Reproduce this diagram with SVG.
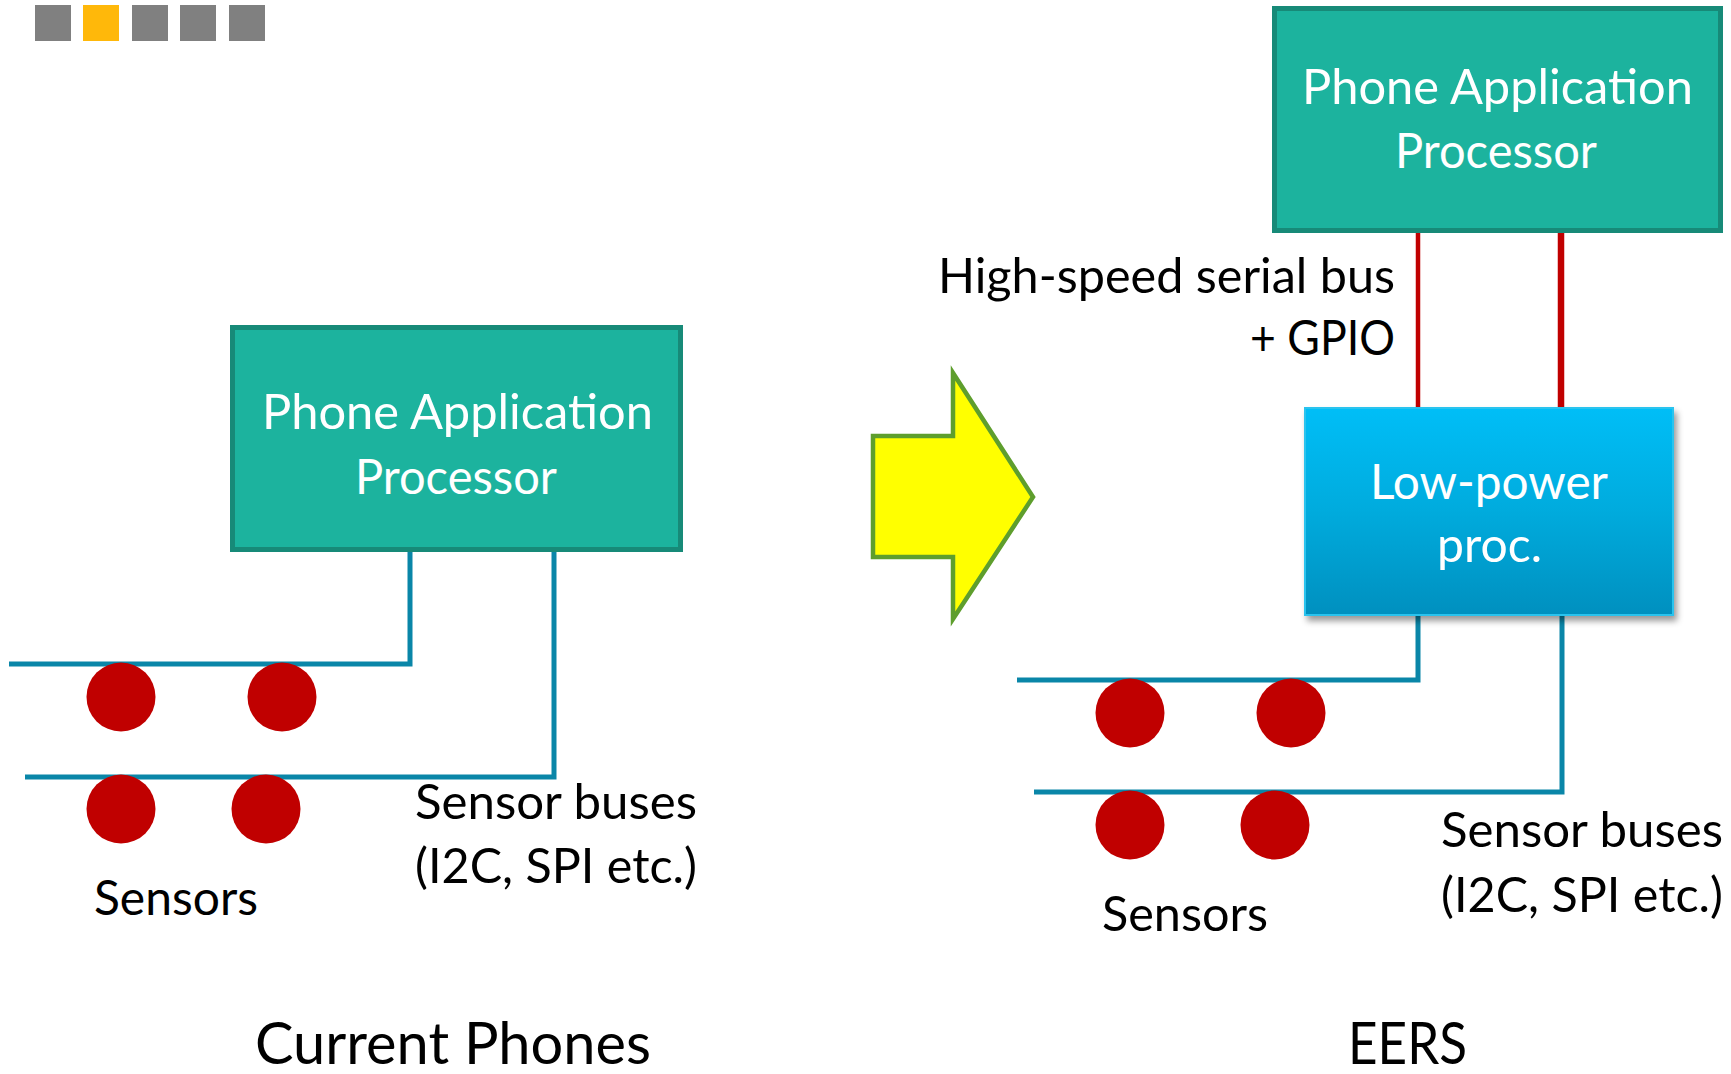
<svg xmlns="http://www.w3.org/2000/svg" width="1731" height="1074" viewBox="0 0 1731 1074">
  <defs>
    <linearGradient id="lpGrad" x1="0" y1="0" x2="0" y2="1">
      <stop offset="0" stop-color="#00BEF7"/>
      <stop offset="0.5" stop-color="#00ABDD"/>
      <stop offset="1" stop-color="#0090BF"/>
    </linearGradient>
    <filter id="shadow" x="-10%" y="-10%" width="125%" height="130%">
      <feDropShadow dx="3" dy="5" stdDeviation="3" flood-color="#000" flood-opacity="0.4"/>
    </filter>
  </defs>
  <style>
    .tile { fill: #808080; }
    .tile.on { fill: #FFB80A; }
    .proc { fill: #1CB39E; stroke: #178A78; stroke-width: 5; }
    .lp { fill: url(#lpGrad); stroke: #2AC3EE; stroke-width: 2; }
    .bus { fill: none; stroke: #0A86A8; stroke-width: 5; stroke-linejoin: miter; }
    .hs { fill: none; stroke: #C00000; }
    .sensor { fill: #C00000; }
    text { font-family: Lato, "Open Sans", "Liberation Sans", sans-serif; }
    .box-label { fill: #FFFFFF; font-size: 48px; text-anchor: middle; }
    .label { fill: #000000; font-size: 48px; }
    .title { fill: #000000; font-size: 58px; }
  </style>

  <rect width="1731" height="1074" fill="#FFFFFF"/>

  <!-- progress tiles -->
  <g id="tiles">
    <rect class="tile" x="35" y="5" width="36" height="36"/>
    <rect class="tile on" x="83" y="5" width="36" height="36"/>
    <rect class="tile" x="132" y="5" width="36" height="36"/>
    <rect class="tile" x="180" y="5" width="36" height="36"/>
    <rect class="tile" x="229" y="5" width="36" height="36"/>
  </g>

  <!-- bus wiring -->
  <g id="connectors">
    <path class="bus" d="M410 552 V664 H9"/>
    <path class="bus" d="M554 552 V777 H25"/>
    <path class="bus" d="M1418 616 V680 H1017"/>
    <path class="bus" d="M1562 616 V792 H1034"/>
    <path class="hs" stroke-width="4.5" d="M1418 232 V408"/>
    <path class="hs" stroke-width="6.5" d="M1561 232 V408"/>
  </g>

  <!-- current phones side -->
  <g id="ap-left">
    <rect class="proc" x="232.5" y="327.5" width="448" height="222"/>
    <text class="box-label" x="457.5" y="429" textLength="391" lengthAdjust="spacingAndGlyphs">Phone Application</text>
    <text class="box-label" x="456" y="494" textLength="202" lengthAdjust="spacingAndGlyphs">Processor</text>
  </g>

  <g id="sensors-left">
    <circle class="sensor" cx="121" cy="697" r="34.5"/>
    <circle class="sensor" cx="282" cy="697" r="34.5"/>
    <circle class="sensor" cx="121" cy="809" r="34.5"/>
    <circle class="sensor" cx="266" cy="809" r="34.5"/>
    <text class="label" x="94" y="915" textLength="164" lengthAdjust="spacingAndGlyphs">Sensors</text>
  </g>

  <g id="buses-left-label">
    <text class="label" x="415" y="819" textLength="282" lengthAdjust="spacingAndGlyphs">Sensor buses</text>
    <text class="label" x="415" y="883" textLength="282" lengthAdjust="spacingAndGlyphs">(I2C, SPI etc.)</text>
  </g>

  <g id="title-left">
    <text class="title" x="255" y="1064" textLength="396" lengthAdjust="spacingAndGlyphs">Current Phones</text>
  </g>

  <!-- transition arrow -->
  <g id="arrow">
    <polygon points="873,436 953,436 953,373 1033,497 953,619 953,557 873,557" fill="#FFFF00" stroke="#5E9E2D" stroke-width="4.5" stroke-linejoin="miter"/>
  </g>

  <!-- EERS side -->
  <g id="ap-right">
    <rect class="proc" x="1274.5" y="8.5" width="446" height="222"/>
    <text class="box-label" x="1497.5" y="104" textLength="391" lengthAdjust="spacingAndGlyphs">Phone Application</text>
    <text class="box-label" x="1496" y="168" textLength="202" lengthAdjust="spacingAndGlyphs">Processor</text>
  </g>

  <g id="hs-label">
    <text class="label" x="938" y="293" textLength="457" lengthAdjust="spacingAndGlyphs">High-speed serial bus</text>
    <text class="label" x="1250" y="355" textLength="145" lengthAdjust="spacingAndGlyphs">+ GPIO</text>
  </g>

  <g id="low-power">
    <rect class="lp" x="1305" y="408" width="368" height="207" filter="url(#shadow)"/>
    <text class="box-label" x="1489" y="499" textLength="238" lengthAdjust="spacingAndGlyphs">Low-power</text>
    <text class="box-label" x="1489.5" y="562" textLength="105" lengthAdjust="spacingAndGlyphs">proc.</text>
  </g>

  <g id="sensors-right">
    <circle class="sensor" cx="1130" cy="713" r="34.5"/>
    <circle class="sensor" cx="1291" cy="713" r="34.5"/>
    <circle class="sensor" cx="1130" cy="825" r="34.5"/>
    <circle class="sensor" cx="1275" cy="825" r="34.5"/>
    <text class="label" x="1102" y="931" textLength="166" lengthAdjust="spacingAndGlyphs">Sensors</text>
  </g>

  <g id="buses-right-label">
    <text class="label" x="1441" y="847" textLength="282" lengthAdjust="spacingAndGlyphs">Sensor buses</text>
    <text class="label" x="1441" y="912" textLength="282" lengthAdjust="spacingAndGlyphs">(I2C, SPI etc.)</text>
  </g>

  <g id="title-right">
    <text class="title" x="1348" y="1064" textLength="119" lengthAdjust="spacingAndGlyphs">EERS</text>
  </g>
</svg>
